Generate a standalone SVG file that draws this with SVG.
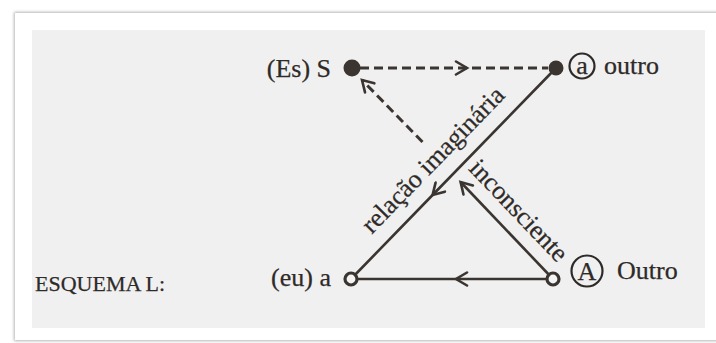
<svg xmlns="http://www.w3.org/2000/svg" width="716" height="343" viewBox="0 0 716 343">
  <defs>
    <filter id="shadow" x="-5%" y="-5%" width="110%" height="110%">
      <feGaussianBlur stdDeviation="1.5"/>
    </filter>
    <marker id="chev" viewBox="0 0 16 16" refX="13" refY="8" markerWidth="16" markerHeight="16" markerUnits="userSpaceOnUse" orient="auto">
      <path d="M2,1.5 L13,8 L2,14.5" fill="none" stroke="#3b3532" stroke-width="2.6" stroke-linecap="round" stroke-linejoin="miter"/>
    </marker>
    <style>
      .lbl { font-family: "Liberation Serif", "Times New Roman", serif; font-size: 26px; fill: #2e2a28; stroke: #2e2a28; stroke-width: 0.25; }
      .small { font-size: 22px; }
      .solid { fill: none; stroke: #3b3532; stroke-width: 2.6; }
      .dash { fill: none; stroke: #3b3532; stroke-width: 3; stroke-dasharray: 9 5; }
      .dot { fill: #3b3532; }
      .open { fill: #f4f4f4; stroke: #3b3532; stroke-width: 3.2; }
      .ring { fill: none; stroke: #2e2a28; stroke-width: 2.2; }
    </style>
  </defs>

  <!-- page / card -->
  <rect x="0" y="0" width="716" height="343" fill="#ffffff"/>
  <rect x="14" y="12" width="712" height="329" fill="#b5b5b5" filter="url(#shadow)"/>
  <rect x="15" y="13" width="712" height="327" fill="#ffffff"/>
  <rect x="32" y="30" width="673" height="298" fill="#f0f0f0"/>

  <!-- connectors -->
  <g id="connectors">
    <path class="dash" d="M360,68 L467,68 L548,68" marker-mid="url(#chev)"/>
    <path class="solid" d="M556,68 L432.6,195 L351,279" marker-mid="url(#chev)"/>
    <path class="solid" d="M553,279 L456,279 L351,279" marker-mid="url(#chev)"/>
    <path class="solid" d="M553,279 L460.6,182" marker-end="url(#chev)"/>
    <path class="dash" d="M422.5,142 L362,80" marker-end="url(#chev)"/>
  </g>

  <!-- nodes -->
  <g id="node-S">
    <circle class="dot" cx="352" cy="68" r="8.5"/>
    <text class="lbl" x="331" y="77" text-anchor="end">(Es) S</text>
  </g>
  <g id="node-a-outro">
    <circle class="dot" cx="556" cy="68" r="7.5"/>
    <circle class="ring" cx="582" cy="66" r="12.5"/>
    <text class="lbl" x="582" y="74" text-anchor="middle" font-size="24">a</text>
    <text class="lbl" x="604" y="74">outro</text>
  </g>
  <g id="node-eu-a">
    <circle class="open" cx="351" cy="279" r="6"/>
    <text class="lbl" x="331" y="286" text-anchor="end">(eu) a</text>
  </g>
  <g id="node-A-Outro">
    <circle class="open" cx="553" cy="279" r="6"/>
    <circle class="ring" cx="587" cy="271" r="15.5"/>
    <text class="lbl" x="587" y="280" text-anchor="middle" font-size="25">A</text>
    <text class="lbl" x="617" y="279">Outro</text>
  </g>
  <g id="title">
    <text class="lbl small" x="35" y="291">ESQUEMA L:</text>
  </g>

  <!-- edge labels -->
  <g id="label-relacao" transform="translate(450.4,176.7) rotate(-45.8)">
    <text class="lbl" x="0" y="-16" text-anchor="middle">relação imaginária</text>
  </g>
  <g id="label-inconsciente" transform="translate(502.4,225.9) rotate(46.4)">
    <text class="lbl" x="0" y="-14" text-anchor="middle">inconsciente</text>
  </g>
</svg>
